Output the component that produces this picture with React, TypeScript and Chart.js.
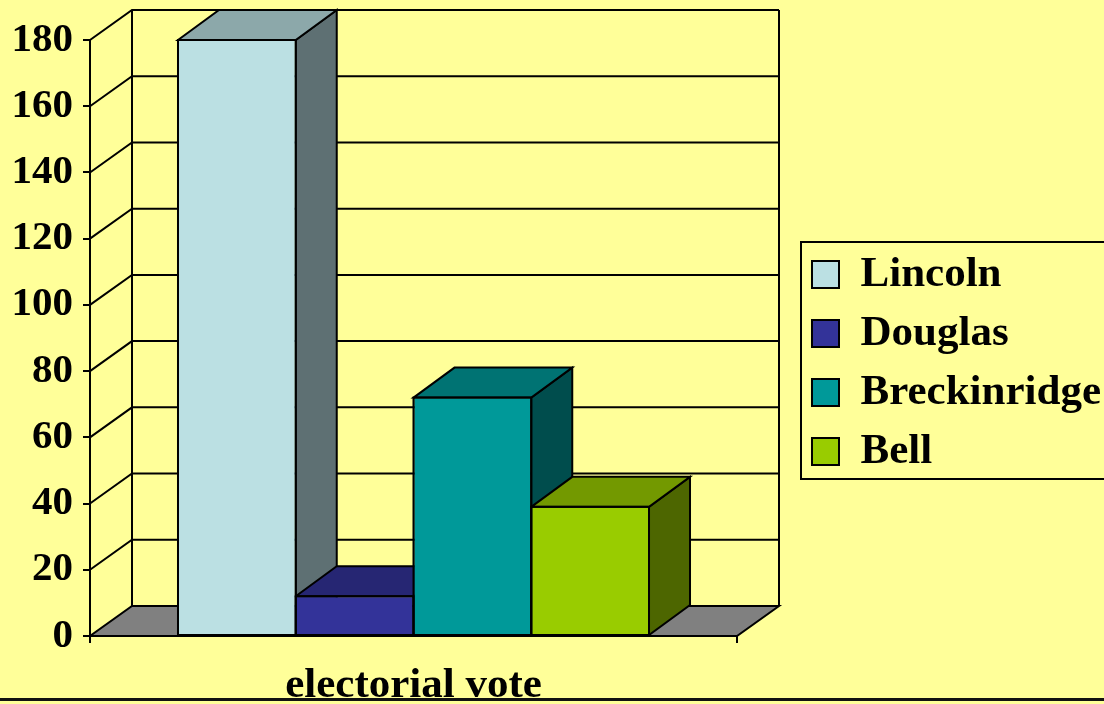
import React, { useEffect, useRef } from 'react';
import { Chart, registerables } from 'chart.js';

Chart.register(...registerables);

// ---- data ----
const categories = ['electorial vote'];
const candidates = ['Lincoln', 'Douglas', 'Breckinridge', 'Bell'];
const electoralVotes = [180, 12, 72, 39];
const frontColors = ['#BBE0E3', '#333399', '#009999', '#99CC00'];
const topColors = ['#8CA8AA', '#262673', '#007373', '#739900'];
const sideColors = ['#5E7073', '#1A1A4D', '#004D4D', '#4D6600'];
const yMin = 0;
const yMax = 180;
const yStep = 20;

// ---- style ----
const BG = '#FFFF99';
const FONT = "'Liberation Serif', 'Times New Roman', serif";
const WALL_DX = 42;
const WALL_DY = 30;
const BAR_DX = 41;
const BAR_DY = 30;
const W = 1104;
const H = 704;
const LEGEND_LEFT = 796;

const threeD = {
  id: 'threeD',
  afterLayout(chart: any) {
    const lg = chart.legend;
    if (lg) {
      lg.left = LEGEND_LEFT;
      lg.right = chart.width + 60;
      lg.width = lg.right - lg.left;
    }
  },
  beforeDatasetsDraw(chart: any) {
    const { ctx, chartArea } = chart;
    const { left, right } = chartArea;
    const ys = chart.scales.y;
    const y0 = ys.getPixelForValue(yMin);
    const yTop = ys.getPixelForValue(yMax);
    ctx.save();
    ctx.lineWidth = 2;
    ctx.strokeStyle = '#000';
    ctx.lineJoin = 'miter';
    // floor
    ctx.beginPath();
    ctx.moveTo(left, y0);
    ctx.lineTo(right, y0);
    ctx.lineTo(right + WALL_DX, y0 - WALL_DY);
    ctx.lineTo(left + WALL_DX, y0 - WALL_DY);
    ctx.closePath();
    ctx.fillStyle = '#808080';
    ctx.fill();
    ctx.stroke();
    // wall grid lines
    ys.ticks.forEach((t: any) => {
      if (t.value <= yMin) return;
      const py = ys.getPixelForValue(t.value);
      ctx.beginPath();
      ctx.moveTo(left, py);
      ctx.lineTo(left + WALL_DX, py - WALL_DY);
      ctx.lineTo(right + WALL_DX, py - WALL_DY);
      ctx.stroke();
    });
    // back verticals
    ctx.beginPath();
    ctx.moveTo(left + WALL_DX, yTop - WALL_DY);
    ctx.lineTo(left + WALL_DX, y0 - WALL_DY);
    ctx.moveTo(right + WALL_DX, yTop - WALL_DY);
    ctx.lineTo(right + WALL_DX, y0 - WALL_DY);
    ctx.stroke();
    // bar side and top faces, left to right
    chart.data.datasets.forEach((_: any, i: number) => {
      const el = chart.getDatasetMeta(i).data[0];
      if (!el) return;
      const { x, y, base, width } = el.getProps(['x', 'y', 'base', 'width'], true);
      const l = x - width / 2;
      const r = x + width / 2;
      ctx.beginPath();
      ctx.moveTo(r, y);
      ctx.lineTo(r + BAR_DX, y - BAR_DY);
      ctx.lineTo(r + BAR_DX, base - BAR_DY);
      ctx.lineTo(r, base);
      ctx.closePath();
      ctx.fillStyle = sideColors[i];
      ctx.fill();
      ctx.stroke();
      ctx.beginPath();
      ctx.moveTo(l, y);
      ctx.lineTo(l + BAR_DX, y - BAR_DY);
      ctx.lineTo(r + BAR_DX, y - BAR_DY);
      ctx.lineTo(r, y);
      ctx.closePath();
      ctx.fillStyle = topColors[i];
      ctx.fill();
      ctx.stroke();
    });
    ctx.restore();
  },
  afterDatasetsDraw(chart: any) {
    const { ctx } = chart;
    ctx.save();
    ctx.lineWidth = 2;
    ctx.strokeStyle = '#000';
    chart.data.datasets.forEach((_: any, i: number) => {
      const el = chart.getDatasetMeta(i).data[0];
      if (!el) return;
      const { x, y, base, width } = el.getProps(['x', 'y', 'base', 'width'], true);
      ctx.strokeRect(x - width / 2, y, width, base - y);
    });
    ctx.restore();
  },
  afterDraw(chart: any) {
    const { ctx } = chart;
    ctx.save();
    const lg = chart.legend;
    const hb = lg && lg.legendHitBoxes;
    if (hb && hb.length) {
      const first = hb[0];
      const last = hb[hb.length - 1];
      const top = first.top - 11;
      const bottom = last.top + last.height + 6;
      ctx.lineWidth = 2;
      ctx.strokeStyle = '#000';
      ctx.strokeRect(lg.left + 5, top, 400, bottom - top);
    }
    ctx.fillStyle = '#111';
    ctx.fillRect(0, 698, chart.width, 3);
    ctx.restore();
  },
};

export default function App() {
  const ref = useRef<HTMLCanvasElement | null>(null);
  useEffect(() => {
    if (!ref.current) return;
    const chart = new Chart(ref.current, {
      type: 'bar',
      data: {
        labels: categories,
        datasets: candidates.map((name, i) => ({
          label: name,
          data: [electoralVotes[i]],
          backgroundColor: frontColors[i],
          borderColor: '#000',
          borderWidth: 1,
          borderSkipped: false,
          xAxisID: 'x',
          yAxisID: 'y',
          categoryPercentage: 0.728,
          barPercentage: 1.0,
        })),
      },
      options: {
        responsive: false,
        maintainAspectRatio: false,
        devicePixelRatio: 1,
        animation: false,
        layout: { padding: { left: 0, right: 167, top: 22, bottom: 0 } },
        plugins: {
          tooltip: { enabled: false },
          title: {
            display: true,
            text: ' ',
            font: { size: 10, lineHeight: 1 },
            padding: { top: 4, bottom: 4 },
          },
          legend: {
            display: true,
            position: 'right',
            maxWidth: 200,
            labels: {
              color: '#000',
              font: { family: FONT, size: 43, weight: 'bold' },
              boxWidth: 27,
              boxHeight: 27,
              padding: 16,
              generateLabels: (c: any) =>
                Chart.defaults.plugins.legend.labels
                  .generateLabels(c)
                  .map((it: any) => ({ ...it, lineWidth: 2, strokeStyle: '#000' })),
            },
          },
        },
        scales: {
          x: {
            type: 'category',
            offset: true,
            grid: {
              display: true,
              drawOnChartArea: false,
              drawTicks: true,
              tickLength: 7,
              color: '#000',
              lineWidth: 2,
              offset: true,
            },
            border: { display: true, color: '#000', width: 2 },
            ticks: {
              color: '#000',
              font: { family: FONT, size: 43, weight: 'bold' },
              padding: 17,
              autoSkip: false,
              maxRotation: 0,
              minRotation: 0,
            },
            afterFit: (s: any) => {
              s.height = 68;
            },
          },
          y: {
            type: 'linear',
            position: 'left',
            min: yMin,
            max: yMax,
            grid: {
              display: true,
              drawOnChartArea: false,
              drawTicks: true,
              tickLength: 7,
              color: '#000',
              lineWidth: 2,
            },
            border: { display: true, color: '#000', width: 2 },
            ticks: {
              stepSize: yStep,
              color: '#000',
              font: { family: FONT, size: 41, weight: 'bold' },
              padding: 10,
              autoSkip: false,
            },
            afterFit: (s: any) => {
              s.width = 90;
            },
          },
        },
      },
      plugins: [threeD],
    } as any);
    return () => chart.destroy();
  }, []);

  return (
    <div
      style={{
        position: 'fixed',
        left: 0,
        top: 0,
        width: W,
        height: H,
        overflow: 'hidden',
        background: BG,
      }}
    >
      <canvas ref={ref} width={W} height={H} style={{ display: 'block', width: W, height: H }} />
    </div>
  );
}
